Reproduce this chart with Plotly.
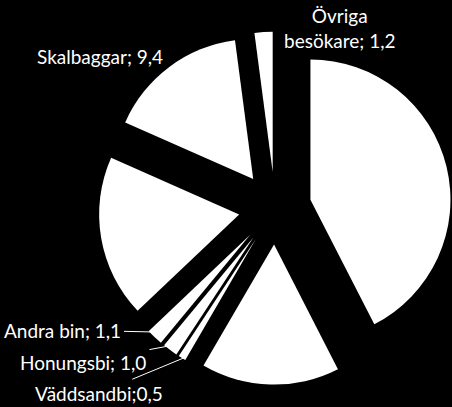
import plotly.graph_objects as go

# slices clockwise from 12 o'clock (only some are labelled in the original)
labels = ['Flugor', 'Humlor', 'Väddsandbi', 'Honungsbi', 'Andra bin',
          'Fjärilar', 'Skalbaggar', 'Övriga besökare']
values = [24.5, 9.2, 0.5, 1.0, 1.1, 10.8, 9.4, 1.2]
shown = [False, False, True, True, True, False, True, True]


def label_text(lab, val):
    num = f"{val:.1f}".replace('.', ',')
    if lab == 'Väddsandbi':
        return f"{lab};{num}"
    if lab == 'Övriga besökare':
        return f"Övriga<br>besökare; {num}"
    return f"{lab}; {num}"


fig = go.Figure(go.Pie(
    labels=labels, values=values,
    textinfo='none', sort=False, direction='clockwise', rotation=0,
    pull=0.26,
    marker=dict(colors=['white'] * len(values), line=dict(width=0)),
    domain=dict(x=[0.218, 0.999], y=[0.055, 0.922]),
    hoverinfo='label+value',
))

# label placement (pixels in a 452x407 canvas): anchor point, text offset
W, H = 452, 407
place = {
    'Övriga besökare': dict(pt=(340, 28), off=None),
    'Skalbaggar': dict(pt=(100, 56), off=None),
    'Andra bin': dict(pt=(155, 332), off=(-93, -2)),
    'Honungsbi': dict(pt=(174, 345), off=(-91, 17)),
    'Väddsandbi': dict(pt=(186, 357), off=(-87, 36)),
}

for lab, val, s in zip(labels, values, shown):
    if not s:
        continue
    p = place[lab]
    ann = dict(x=p['pt'][0] / W, y=1 - p['pt'][1] / H,
               xref='paper', yref='paper',
               xanchor='center', yanchor='middle',
               text=label_text(lab, val),
               font=dict(color='white', size=19, family='Lato'))
    if p['off'] is None:
        ann['showarrow'] = False
    else:
        ann.update(showarrow=True, arrowhead=0, arrowwidth=1,
                   arrowcolor='white', ax=p['off'][0], ay=p['off'][1],
                   standoff=0, startstandoff=2)
    fig.add_annotation(**ann)

fig.update_layout(
    width=W, height=H,
    margin=dict(l=0, r=0, t=0, b=0),
    paper_bgcolor='black', plot_bgcolor='black',
    showlegend=False,
)

fig.write_html("out.html", config={'displayModeBar': False},
               post_script="document.body.style.margin='0';")
